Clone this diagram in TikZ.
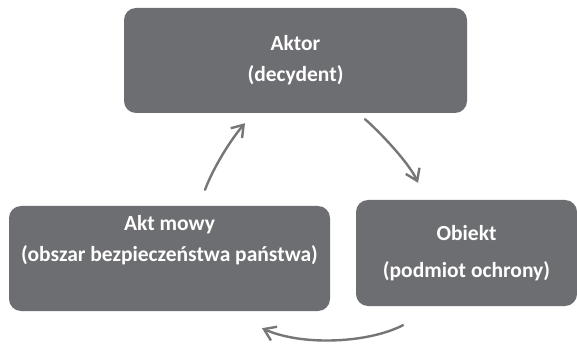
\documentclass[tikz,border=0pt]{standalone}
\usepackage{fontspec}
\setmainfont{Carlito}
\usetikzlibrary{arrows.meta}
\definecolor{boxgray}{RGB}{109,110,113}
\definecolor{arrowgray}{RGB}{118,118,120}
\tikzset{
  stagebox/.style={fill=boxgray, draw=none, rounded corners=12pt,
    text=white, align=center, inner sep=0pt,
    font=\fontsize{21.5pt}{31pt}\selectfont\bfseries},
  cyclearrow/.style={draw=arrowgray, line width=2.4pt, line cap=round,
    -{Straight Barb[length=11pt,width=15pt,line width=2.4pt]}}
}
\begin{document}
\begin{tikzpicture}[x=1pt,y=-1pt]
  \useasboundingbox (0,0) rectangle (577,344);
  \fill[white] (0,0) rectangle (577,344);

  % the three stages
  \node[stagebox, minimum width=343pt, minimum height=105pt] (actor) at (295.5,60.5)
    {Aktor\\(decydent)};
  \node[stagebox, minimum width=321pt, minimum height=105pt] (speech) at (169.5,258.5)
    {Akt mowy\\(obszar bezpieczeństwa państwa)\\\strut};
  \node[stagebox, minimum width=221pt, minimum height=106pt] (object) at (466.5,253)
    {Obiekt\\[6pt](podmiot ochrony)};

  % free ends of the cycle arrows, placed next to the boxes
  \coordinate (a1s) at ([xshift=35.5pt,yshift=16pt]speech.north);
  \coordinate (a1e) at ([xshift=-50.5pt,yshift=-10pt]actor.south);
  \coordinate (a2s) at ([xshift=69.5pt,yshift=-6pt]actor.south);
  \coordinate (a2e) at ([xshift=-48.5pt,yshift=17pt]object.north);
  \coordinate (a3s) at ([xshift=-63.5pt,yshift=-19pt]object.south);
  \coordinate (a3e) at ([xshift=92.5pt,yshift=-17pt]speech.south);

  % cycle: speech act -> actor -> object -> speech act
  \draw[cyclearrow] (a1s) .. controls +(9,-24) and +(-13,15) .. (a1e);
  \draw[cyclearrow] (a2s) .. controls +(14,12) and +(-9,-20) .. (a2e);
  \draw[cyclearrow] (a3s) .. controls +(-35,18) and +(40,18) .. (a3e);
\end{tikzpicture}
\end{document}
